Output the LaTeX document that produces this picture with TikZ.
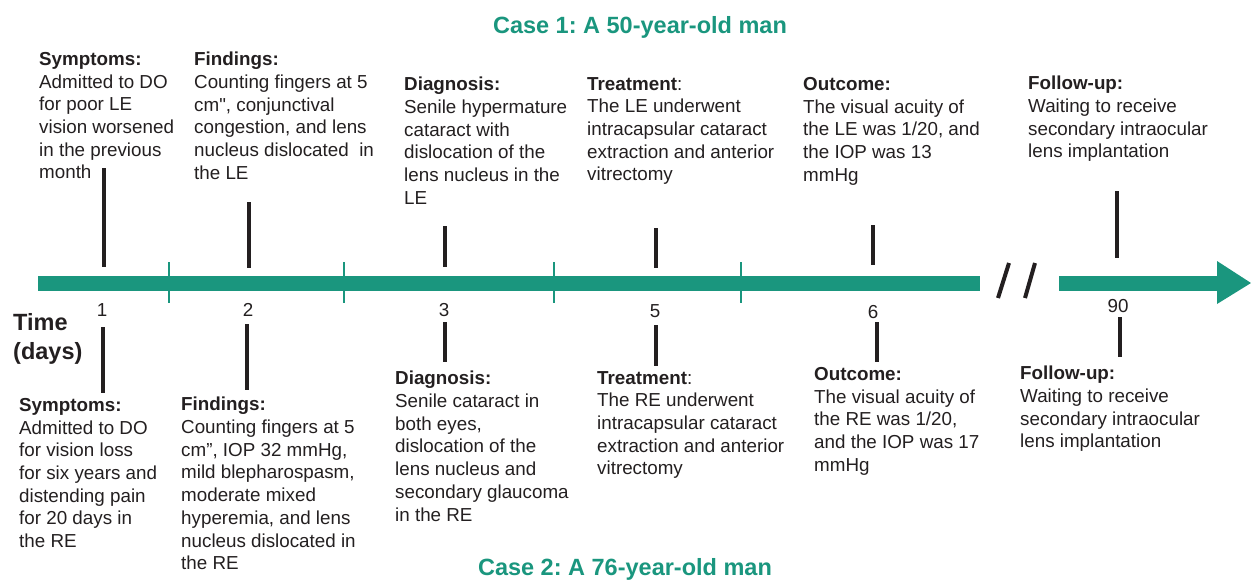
\documentclass[tikz,border=0pt]{standalone}
\usepackage{fontspec}
\setmainfont{Liberation Sans}
\newfontfamily\plainquote{Liberation Sans}
\usepackage{xcolor}
\definecolor{casegreen}{RGB}{26,150,126}
\definecolor{ink}{RGB}{35,31,32}

\begin{document}
\frenchspacing
\begin{tikzpicture}[x=1pt,y=-1pt,
	stem/.style={ink, line width=3.2pt},
	sep/.style={casegreen, line width=2.8pt},
	bar/.style={casegreen, line width=15pt},
	txt/.style={anchor=north west, align=left, inner sep=0pt, text=ink, font=\fontsize{18.8}{22.7}\selectfont},
	daynum/.style={inner sep=0pt, text=ink, font=\fontsize{18.8}{22.7}\selectfont},
	title/.style={anchor=base, inner sep=0pt, text=casegreen, font=\fontsize{23.5}{28}\selectfont\bfseries}]
	
	\useasboundingbox (0,0) rectangle (1251,579);
	
	\coordinate (A) at (38,283);
	\coordinate (B) at (980,283);
	\coordinate (C) at (1059,283);
	\coordinate (D) at (1218,283);
	\coordinate (E) at (1251,283);
	
	\draw[bar] (A) -- (B);
	\draw[bar] (C) -- (D);
	\fill[casegreen] (1217,261) -- (E) -- (1217,304) -- cycle;
	\foreach \x in {169,344,554,741}{
		\draw[sep] (\x,262) -- (\x,303);
	}
	\draw[ink, line width=4pt] (998,298) -- (1009,263);
	\draw[ink, line width=4pt] (1025,298) -- (1035,263);
	
	\foreach \n/\x/\y in {
		1/102/310,
		2/248/310,
		3/444/310,
		5/655/311,
		6/873/312,
		90/1118/306.5
	}{
		\node[daynum] (day\n) at (\x,\y) {\n};
	}
	
	\foreach \n/\x/\a/\b in {
		1/104/168/267,
		2/249/202/268,
		3/445/226/267,
		5/656/228/268,
		6/873/225/265,
		90/1117/191/258
	}{
		\coordinate (up\n a) at (\x,\a);
		\coordinate (up\n b) at (\x,\b);
		\draw[stem] (up\n a) -- (up\n b);
	}
	\foreach \n/\x/\a/\b in {
		1/103/327/393,
		2/247/324/390,
		3/445/322/362,
		5/656/325/366,
		6/877/322/362,
		90/1120/317/357
	}{
		\coordinate (lo\n a) at (\x,\a);
		\coordinate (lo\n b) at (\x,\b);
		\draw[stem] (lo\n a) -- (lo\n b);
	}
	
	\node[title] (case1) at (640,33) {Case 1: A 50-year-old man};
	\node[title] (case2) at (625,575) {Case 2: A 76-year-old man};
	\node[txt, font=\fontsize{23.5}{29}\selectfont\bfseries] (time) at (13,313) {Time\\(days)};
	
	\node[txt] (symp1) at (39,52) {\textbf{Symptoms:}\\Admitted to DO\\for poor LE\\vision worsened\\in the previous\\month};
	\node[txt] (find1) at (194,52) {\textbf{Findings:}\\Counting fingers at 5\\cm{\plainquote"}, conjunctival\\congestion, and lens\\nucleus dislocated\ \ in\\the LE};
	\node[txt] (diag1) at (404,77) {\textbf{Diagnosis:}\\Senile hypermature\\cataract with\\dislocation of the\\lens nucleus in the\\LE};
	\node[txt] (treat1) at (587,77) {\textbf{Treatment}:\\The LE underwent\\intracapsular cataract\\extraction and anterior\\vitrectomy};
	\node[txt] (out1) at (803,77) {\textbf{Outcome:}\\The visual acuity of\\the LE was 1/20, and\\the IOP was 13\\mmHg};
	\node[txt] (follow1) at (1028,76) {\textbf{Follow-up:}\\Waiting to receive\\secondary intraocular\\lens implantation};
	
	\node[txt] (symp2) at (19,398) {\textbf{Symptoms:}\\Admitted to DO\\for vision loss\\for six years and\\distending pain\\for 20 days in\\the RE};
	\node[txt] (find2) at (181,397) {\textbf{Findings:}\\Counting fingers at 5\\cm”, IOP 32 mmHg,\\mild blepharospasm,\\moderate mixed\\hyperemia, and lens\\nucleus dislocated in\\the RE};
	\node[txt] (diag2) at (395,371) {\textbf{Diagnosis:}\\Senile cataract in\\both eyes,\\dislocation of the\\lens nucleus and\\secondary glaucoma\\in the RE};
	\node[txt] (treat2) at (597,371) {\textbf{Treatment}:\\The RE underwent\\intracapsular cataract\\extraction and anterior\\vitrectomy};
	\node[txt] (out2) at (814,367) {\textbf{Outcome:}\\The visual acuity of\\the RE was 1/20,\\and the IOP was 17\\mmHg};
	\node[txt] (follow2) at (1020,366) {\textbf{Follow-up:}\\Waiting to receive\\secondary intraocular\\lens implantation};
\end{tikzpicture}
\end{document}
